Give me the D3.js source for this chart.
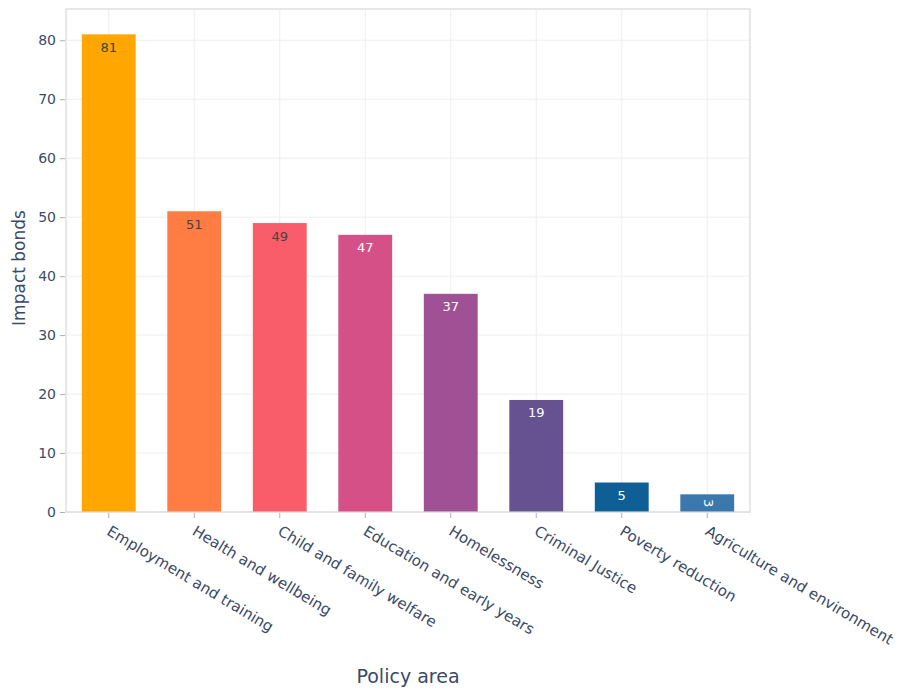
<!DOCTYPE html>
<html>
<head>
<meta charset="utf-8">
<script src="https://cdn.jsdelivr.net/npm/d3@7"></script>
<style>
  html, body { margin: 0; padding: 0; background: #fff; }
  svg { display: block; }
  text { font-family: "DejaVu Sans", Verdana, sans-serif; }
</style>
</head>
<body>
<svg id="chart" width="907" height="689"></svg>
<script>
const categories = ["Employment and training", "Health and wellbeing", "Child and family welfare",
  "Education and early years", "Homelessness", "Criminal Justice", "Poverty reduction",
  "Agriculture and environment"];
const values = [81, 51, 49, 47, 37, 19, 5, 3];
const barColors = ["#ffa600", "#ff7c43", "#f95d6a", "#d45087", "#a05195", "#665191", "#0f5f97", "#3b78ad"];
const labelColors = ["#444", "#444", "#444", "#fff", "#fff", "#fff", "#fff", "#fff"];
const yTicks = [0, 10, 20, 30, 40, 50, 60, 70, 80];
const yTitle = "Impact bonds";
const xTitle = "Policy area";

const svg = d3.select("#chart");
const m = { left: 66, right: 750, top: 9, bottom: 512 };
const textColor = "#3b4a68";

const x = d3.scaleBand().domain(categories).range([m.left, m.right])
  .paddingInner(0.37).paddingOuter(0.185);
const y = d3.scaleLinear().domain([0, 85.3]).range([m.bottom, m.top]);

// gridlines
const grid = svg.append("g");
grid.selectAll("line.h").data(yTicks).join("line")
  .attr("x1", m.left).attr("x2", m.right)
  .attr("y1", d => y(d)).attr("y2", d => y(d))
  .attr("stroke", "#eeeeee").attr("stroke-width", 1);
grid.selectAll("line.v").data(categories).join("line")
  .attr("x1", d => x(d) + x.bandwidth() / 2).attr("x2", d => x(d) + x.bandwidth() / 2)
  .attr("y1", m.top).attr("y2", m.bottom)
  .attr("stroke", "#eeeeee").attr("stroke-width", 1);

// bars
svg.append("g").selectAll("rect").data(values).join("rect")
  .attr("x", (d, i) => x(categories[i]))
  .attr("width", x.bandwidth())
  .attr("y", d => y(d))
  .attr("height", d => m.bottom - y(d))
  .attr("fill", (d, i) => barColors[i]);

// bar labels
svg.append("g").selectAll("text").data(values).join("text")
  .attr("transform", (d, i) => {
    const cx = x(categories[i]) + x.bandwidth() / 2;
    const h = m.bottom - y(d);
    if (h < 20) return `translate(${cx},${y(d) + h / 2}) rotate(90)`;
    return `translate(${cx},${y(d) + 14})`;
  })
  .attr("text-anchor", "middle")
  .attr("dominant-baseline", "middle")
  .attr("font-size", 13)
  .attr("fill", (d, i) => labelColors[i])
  .text(d => d);

// frame
svg.append("rect")
  .attr("x", m.left).attr("y", m.top)
  .attr("width", m.right - m.left).attr("height", m.bottom - m.top)
  .attr("fill", "none").attr("stroke", "#d8d8d8").attr("stroke-width", 1.2);

// y axis
const yAxis = d3.axisLeft(y).tickValues(yTicks).tickSize(5).tickPadding(4);
const gy = svg.append("g").attr("transform", `translate(${m.left - 1},0)`).call(yAxis);
gy.select(".domain").remove();
gy.selectAll(".tick line").attr("stroke", "#b0b0b0");
gy.selectAll(".tick text").attr("font-size", 14).attr("fill", textColor)
  .attr("font-family", "DejaVu Sans, sans-serif");

// x axis
const xAxis = d3.axisBottom(x).tickSize(5).tickPadding(0);
const gx = svg.append("g").attr("transform", `translate(0,${m.bottom + 1})`).call(xAxis);
gx.select(".domain").remove();
gx.selectAll(".tick line").attr("stroke", "#b0b0b0");
gx.selectAll(".tick text")
  .attr("font-size", 15).attr("fill", textColor)
  .attr("font-family", "DejaVu Sans, sans-serif")
  .attr("text-anchor", "start")
  .attr("dy", null)
  .attr("y", 0)
  .attr("transform", "translate(-3,21) rotate(31)");

// titles
svg.append("text")
  .attr("transform", `translate(25,268) rotate(-90)`)
  .attr("text-anchor", "middle")
  .attr("font-size", 17).attr("fill", textColor)
  .text(yTitle);
svg.append("text")
  .attr("x", 408).attr("y", 683)
  .attr("text-anchor", "middle")
  .attr("font-size", 19).attr("fill", textColor)
  .text(xTitle);
</script>
</body>
</html>
